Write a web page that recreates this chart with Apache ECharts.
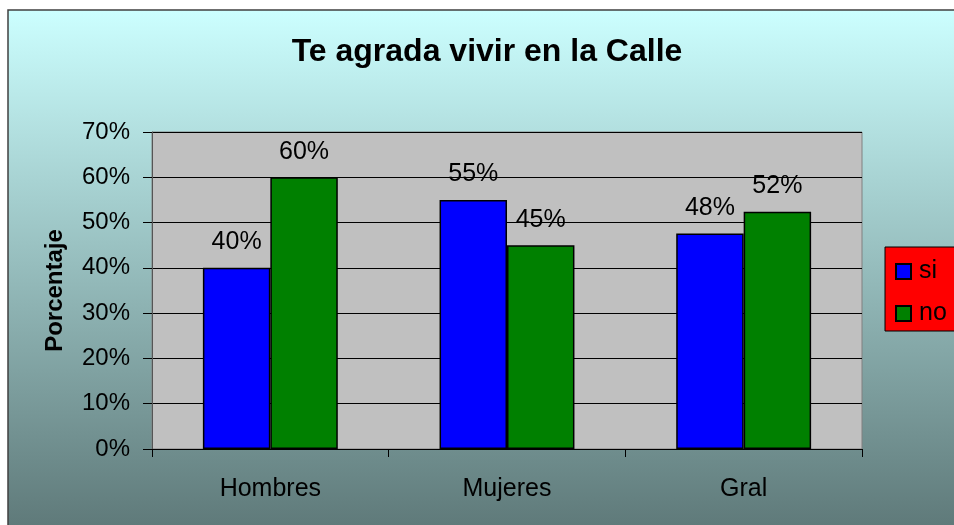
<!DOCTYPE html>
<html>
<head>
<meta charset="utf-8">
<script src="https://cdn.jsdelivr.net/npm/echarts@6/dist/echarts.min.js"></script>
<style>
  html, body { margin: 0; padding: 0; background: #fff; }
  #chart { width: 954px; height: 525px; }
</style>
</head>
<body>
<div id="chart"></div>
<script>
// datos
var categorias = ['Hombres', 'Mujeres', 'Gral'];
var valoresSi = [40, 55, 47.6];
var valoresNo = [60, 45, 52.4];
var ticksY = [0, 10, 20, 30, 40, 50, 60, 70];

var myChart = echarts.init(document.getElementById('chart'));
var fuente = 'Liberation Sans, Arial, sans-serif';

var etiqueta = {
  show: true,
  position: 'top',
  distance: 13,
  color: '#000',
  fontSize: 25,
  fontFamily: fuente,
  formatter: function (p) {
    return Math.round(p.value) + '%';
  }
};

var option = {
  animation: false,
  graphic: [
    {
      type: 'rect',
      z: -10,
      shape: { x: 8, y: 10, width: 960, height: 530 },
      style: {
        fill: {
          type: 'linear', x: 0, y: 0, x2: 0, y2: 1,
          colorStops: [
            { offset: 0, color: '#CCFFFF' },
            { offset: 1, color: '#5C7676' }
          ]
        },
        stroke: '#404040',
        lineWidth: 1.5
      }
    },
    {
      type: 'rect',
      z: -5,
      shape: { x: 885, y: 247, width: 80, height: 84 },
      style: { fill: '#FF0000', stroke: '#000', lineWidth: 1 }
    }
  ],
  title: {
    text: 'Te agrada vivir en la Calle',
    left: 482,
    textAlign: 'center',
    top: 31,
    textStyle: {
      fontFamily: fuente,
      fontSize: 32,
      fontWeight: 'bold',
      color: '#000'
    }
  },
  legend: {
    orient: 'vertical',
    left: 890,
    top: 254,
    itemWidth: 15,
    itemHeight: 15,
    itemGap: 17,
    icon: 'rect',
    textStyle: {
      fontFamily: fuente,
      fontSize: 25,
      lineHeight: 15,
      color: '#000',
      padding: [0, 0, 0, 3]
    },
    data: ['si', 'no']
  },
  grid: {
    left: 152,
    top: 132,
    right: 92,
    bottom: 76,
    show: true,
    backgroundColor: '#C0C0C0',
    borderColor: '#808080',
    borderWidth: 1
  },
  xAxis: {
    type: 'category',
    data: categorias,
    axisLine: { lineStyle: { color: '#000', width: 1 } },
    axisTick: { show: true, length: 8, inside: false, lineStyle: { color: '#000' } },
    axisLabel: { color: '#000', fontSize: 25, fontFamily: fuente, margin: 28 }
  },
  yAxis: {
    type: 'value',
    min: ticksY[0],
    max: ticksY[ticksY.length - 1],
    interval: 10,
    name: 'Porcentaje',
    nameLocation: 'middle',
    nameGap: 85,
    nameTextStyle: { fontFamily: fuente, fontSize: 24, fontWeight: 'bold', color: '#000' },
    axisLine: { show: true, lineStyle: { color: '#555', width: 1 } },
    axisTick: { show: true, length: 9, lineStyle: { color: '#000' } },
    axisLabel: {
      color: '#000',
      fontSize: 24,
      fontFamily: fuente,
      margin: 22,
      formatter: '{value}%'
    },
    splitLine: { show: true, lineStyle: { color: '#000', width: 1 } }
  },
  series: [
    {
      name: 'si',
      type: 'bar',
      barGap: '0%',
      barCategoryGap: '43%',
      data: valoresSi,
      itemStyle: { color: '#0000FF', borderColor: '#000', borderWidth: 1.5 },
      label: etiqueta
    },
    {
      name: 'no',
      type: 'bar',
      data: valoresNo,
      itemStyle: { color: '#008000', borderColor: '#000', borderWidth: 1.5 },
      label: etiqueta
    }
  ]
};

myChart.setOption(option);
</script>
</body>
</html>
